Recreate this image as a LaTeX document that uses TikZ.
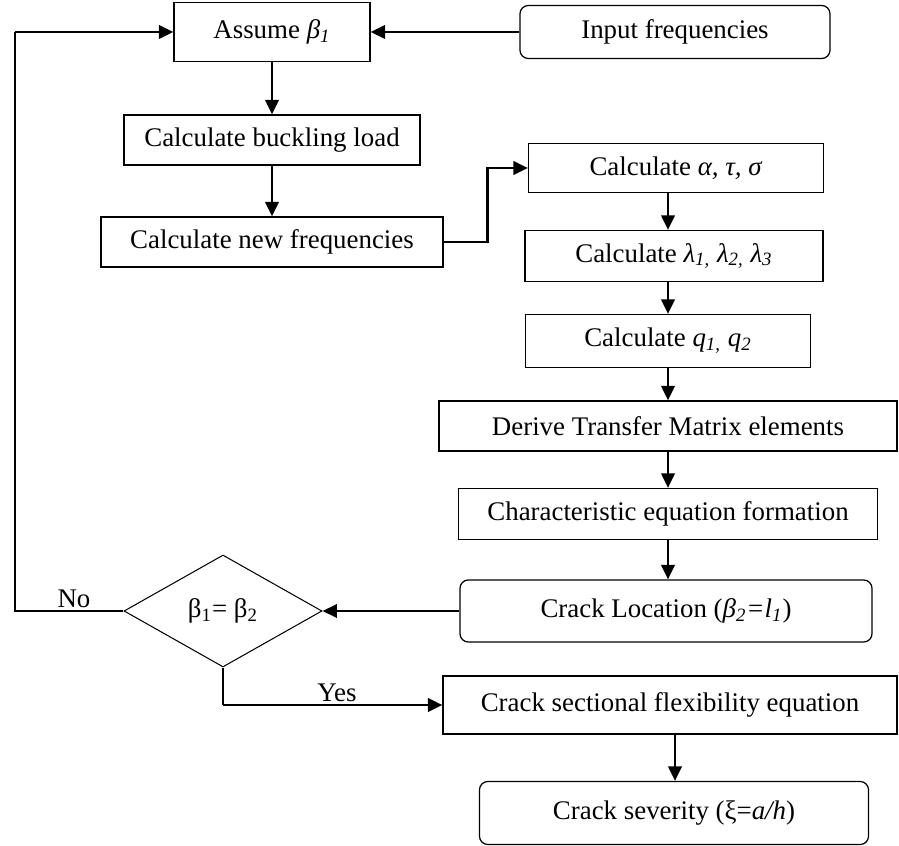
\documentclass[tikz,border=0pt]{standalone}
\usepackage{fontspec}
\setmainfont{Liberation Serif}
\usetikzlibrary{positioning,arrows.meta,calc,shapes.geometric}
\definecolor{fcLine}{RGB}{0,0,0}
\tikzset{
    base/.style={font=\fontsize{13}{15}\selectfont, align=center, inner sep=0pt},
    step box/.style 2 args={base, rectangle, draw=fcLine, line width=0.6pt,
                    minimum width=#1*0.017cm, minimum height=#2*0.017cm},
    end box/.style 2 args={step box={#1}{#2}, rounded corners=4pt},
    decision/.style={base, diamond, draw=fcLine, line width=0.5pt,
                    minimum width=198*0.017cm, minimum height=112*0.017cm},
    flow/.style={-{Triangle[length=7pt,width=6.5pt]}, line width=1.1pt, color=fcLine},
    thinflow/.style={line width=0.6pt, color=fcLine},
    label/.style={base}
}
\begin{document}
\begin{tikzpicture}[x=0.017cm, y=-0.017cm]
  \useasboundingbox (0,0) rectangle (899,846);

  % Left column
  \node[step box={196}{59}] (assume) at (272,32) {Assume \textit{β\textsubscript{1}}};
  \node[end box={310}{53}] (input) at (675,32) {Input frequencies};
  \node[step box={296}{50}] (buckling) at (272,140) {Calculate buckling load};
  \node[step box={342}{50}] (newfreq) at (272,242) {Calculate new frequencies};

  % Right column
  \node[step box={295}{49}] (alpha) at (676,168) {Calculate \textit{α, τ, σ}};
  \node[step box={298}{51}] (lambda) at (674,256) {Calculate \textit{λ\textsubscript{1,} λ\textsubscript{2,} λ\textsubscript{3}}};
  \node[step box={285}{53}] (qcalc) at (668,341) {Calculate \textit{q\textsubscript{1,} q\textsubscript{2}}};
  \node[step box={458}{50}] (derive) at (668,426) {Derive Transfer Matrix elements};
  \node[step box={419}{51}] (charact) at (668,514) {Characteristic equation formation};
  \node[end box={412}{62}] (crackloc) at (666,611) {Crack Location (\textit{β\textsubscript{2}=l\textsubscript{1}})};
  \node[step box={454}{58}] (flexib) at (670,705) {Crack sectional flexibility equation};
  \node[end box={389}{63}] (severity) at (674,813) {Crack severity (ξ=\textit{a/h})};

  % Decision
  \node[decision] (check) at (223,611) {β\textsubscript{1}= β\textsubscript{2}};
  \coordinate (noturn) at (15,32);
  \coordinate (yesturn) at (223,705);

  % Connectors
  \draw[flow] (input.west) -- (assume.east);
  \draw[flow] (assume.south) -- (assume.south |- buckling.north);
  \draw[flow] (buckling.south) -- (buckling.south |- newfreq.north);
  \draw[flow] (newfreq.east) -- ++(44,0) |- (alpha.west);
  \draw[flow] (alpha.south) ++(-8,0) -- ($(alpha.south |- lambda.north)+(-8,0)$);
  \draw[flow] (lambda.south) ++(-6,0) -- ($(lambda.south |- qcalc.north)+(-6,0)$);
  \draw[flow] (qcalc.south) -- (qcalc.south |- derive.north);
  \draw[flow] (derive.south) -- (derive.south |- charact.north);
  \draw[flow] (charact.south) -- (charact.south |- crackloc.north);
  \draw[flow] (crackloc.west) -- (check.east);
  \draw[thinflow] (check.west) -| (noturn);
  \draw[flow] (noturn) -- (assume.west);
  \draw[thinflow] (check.south) -- (yesturn);
  \draw[flow] (yesturn) -- (flexib.west);
  \draw[flow] (flexib.south) ++(5,0) -- ($(flexib.south |- severity.north)+(5,0)$);

  % Branch labels
  \node[label] (nolabel) at (74,599) {No};
  \node[label] (yeslabel) at (337,693) {Yes};
\end{tikzpicture}
\end{document}
